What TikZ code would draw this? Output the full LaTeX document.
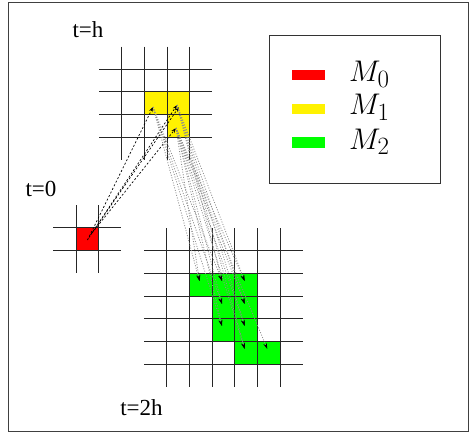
\documentclass[tikz,border=0pt]{standalone}
\usepackage[no-math]{fontspec}
\newfontfamily\tmsfont{Liberation Serif}
\usetikzlibrary{arrows.meta}
\begin{document}
\begin{tikzpicture}[x=1pt,y=-1pt,
  gridline/.style={draw=black!85,line width=0.9pt},
  lbl/.style={font=\tmsfont\fontsize{23}{26}\selectfont,inner sep=0pt},
  mlbl/.style={font=\fontsize{24.88}{30}\selectfont,inner sep=0pt,anchor=base west,scale=1.2,transform shape},
  jumpA/.style={draw=black,dash pattern=on 2pt off 2pt,line width=0.7pt,-{Stealth[length=5pt,width=3.5pt]}},
  jumpB/.style={draw=black!45,dash pattern=on 1pt off 1.6pt,line width=0.8pt,-{Stealth[length=6pt,width=3.5pt,black]}},
]
\useasboundingbox (0,0) rectangle (476,434);
\draw[draw=black!75,line width=1pt] (8,2) rectangle (468,431);

% coloured cells
\fill[yellow] (144.3,91.7) rectangle (189.7,114.3);
\fill[yellow] (167,114.3) rectangle (189.7,137);
\fill[red] (76,227.7) rectangle (98.7,250.3);
\fill[green] (189.3,273.3) rectangle (257.3,296);
\fill[green] (212,296) rectangle (257.3,341.3);
\fill[green] (234.7,341.3) rectangle (280,364);

% grid t=h
\foreach \x in {121.7,144.3,167,189.7} \draw[gridline] (\x,46.5) -- (\x,159.7);
\foreach \y in {69,91.7,114.3,137} \draw[gridline] (99.3,\y) -- (212,\y);
% grid t=0
\foreach \x in {76,98.7} \draw[gridline] (\x,205) -- (\x,273);
\foreach \y in {227.7,250.3} \draw[gridline] (53.3,\y) -- (121.4,\y);
% grid t=2h
\foreach \x in {166.7,189.3,212,234.7,257.3,280} \draw[gridline] (\x,228) -- (\x,386.7);
\foreach \y in {250.7,273.3,296,318.7,341.3,364} \draw[gridline] (144,\y) -- (302.7,\y);

% labels
\node[lbl] (th) at (88,30) {t=h};
\node[lbl] (t0) at (41,189) {t=0};
\node[lbl] (t2h) at (141.5,408) {t=2h};

% legend
\draw[draw=black!80,line width=0.9pt] (269,35) rectangle (440,183);
\fill[red] (292,70) rectangle (325,80);
\fill[yellow] (292,103.5) rectangle (325,113.5);
\fill[green] (292,137) rectangle (325,147.5);
\node[mlbl] (m0) at (349,81.7) {$M_0$};
\node[mlbl] (m1) at (349,114.5) {$M_1$};
\node[mlbl] (m2) at (349,149) {$M_2$};

% points
\coordinate (r1) at (87.5,240);
\coordinate (r2) at (89,237.5);
\coordinate (r3) at (90.5,235);
\coordinate (r4) at (92,233);
\coordinate (y1) at (153,107);
\coordinate (y2) at (177,105);
\coordinate (y2b) at (179,107);
\coordinate (y3) at (176,128);
\coordinate (g1) at (199.5,281);
\coordinate (g2) at (222,281);
\coordinate (g3) at (244.7,281);
\coordinate (g4) at (222,304);
\coordinate (g5) at (244.7,304);
\coordinate (g6) at (222,326);
\coordinate (g7) at (244.7,326);
\coordinate (g8) at (244.7,349);
\coordinate (g9) at (267.3,349);

% jumps 0 -> h
\draw[jumpA] (r1) -- (y1);
\draw[jumpA] (r2) -- (y2);
\draw[jumpA] (r3) -- (y2b);
\draw[jumpA] (r4) -- (y3);

% jumps h -> 2h
\foreach \a/\b in {y1/g1,y1/g2,y1/g4,y1/g6,y2/g2,y2/g3,y2/g5,y2/g7,y2/g8,y3/g1,y3/g3,y3/g4,y3/g5,y3/g6,y3/g7,y3/g8,y3/g9}
  \draw[jumpB] (\a) -- (\b);
\end{tikzpicture}
\end{document}
